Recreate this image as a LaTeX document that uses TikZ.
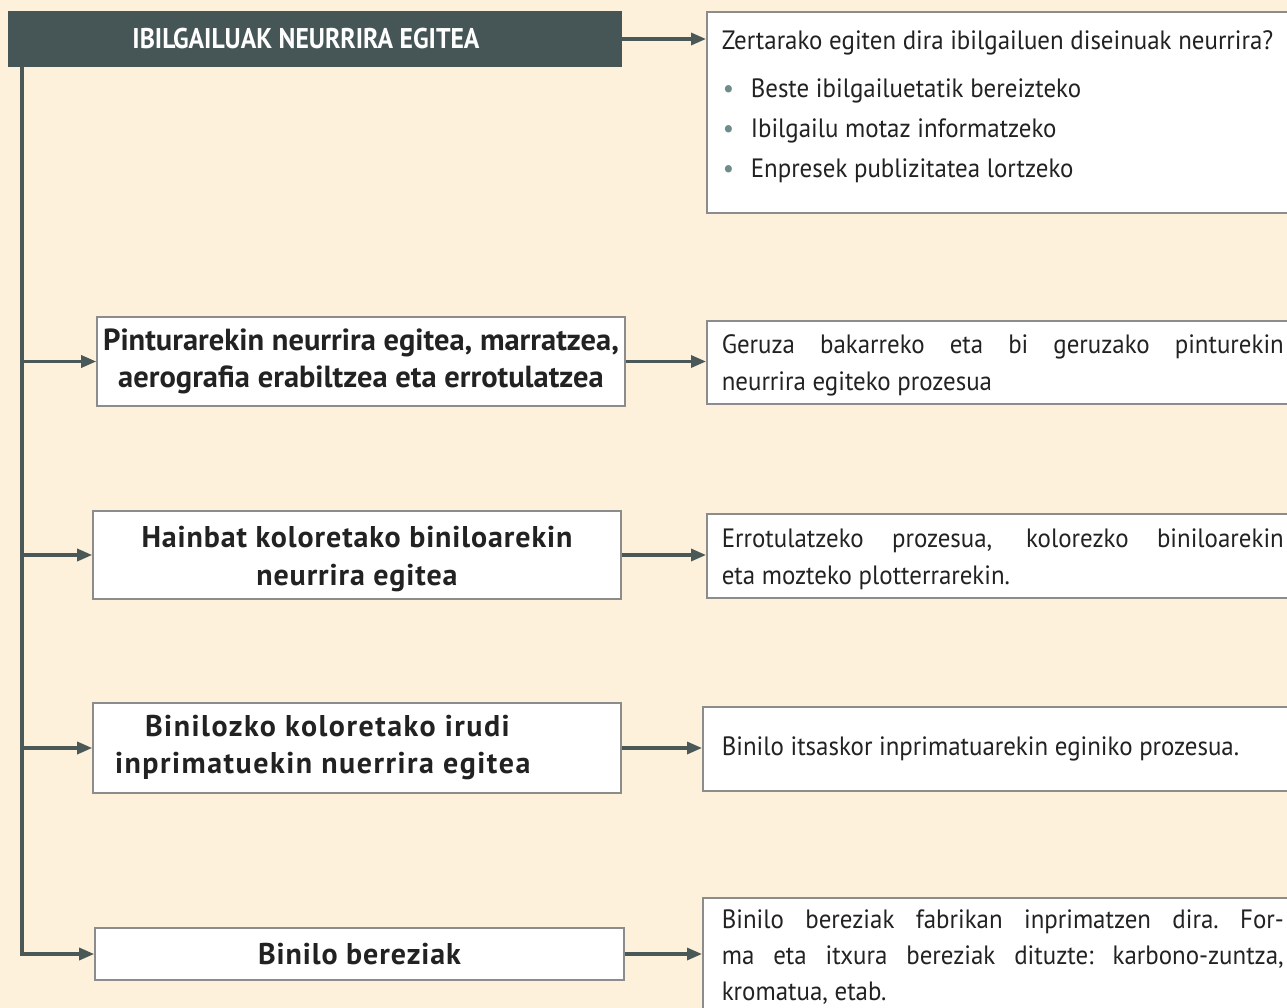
\documentclass[tikz,border=0pt]{standalone}
\usepackage{fontspec}
\setmainfont{PT Sans}
\newfontfamily\rtext{PT Sans}[FakeStretch=0.94]
\newfontfamily\lcond{PT Sans}[FakeStretch=1.0]
\newfontfamily\lnorm{PT Sans}[LetterSpace=3]
\newfontfamily\lwide{PT Sans}[LetterSpace=5]
\newfontfamily\ttlfont{PT Sans}[FakeStretch=0.9]
\usetikzlibrary{arrows.meta}
\definecolor{bg}{HTML}{FDF1DB}
\definecolor{dark}{HTML}{465656}
\definecolor{linec}{HTML}{4A5858}
\definecolor{bord}{HTML}{8C8C8C}
\definecolor{bul}{HTML}{6F8B8B}
\definecolor{txt}{HTML}{222222}
\begin{document}
\begin{tikzpicture}[x=1pt,y=-1pt,
  conn/.style={draw=linec, line width=3.2pt, -{Triangle[length=15pt,width=12pt]}},
  trunk/.style={draw=linec, line width=3.2pt},
  lbox/.style={draw=bord, line width=1.6pt, fill=white, inner sep=0pt, text=txt},
  rbox/.style={draw=bord, line width=1.6pt, fill=white, anchor=north west, inner sep=0pt, text=txt},
  rfont/.style={font=\rtext\fontsize{26.5}{37}\selectfont},
  lfontA/.style={font=\lcond\bfseries\fontsize{30.5}{37}\selectfont},
  lfontB/.style={font=\lnorm\bfseries\fontsize{30}{38}\selectfont},
  lfontC/.style={font=\lwide\bfseries\fontsize{30}{37}\selectfont},
  ]
\useasboundingbox (0,0) rectangle (1287,1008);
\fill[bg] (0,0) rectangle (1287,1008);

% title
\node[fill=dark, minimum width=614pt, minimum height=56pt, inner sep=0pt, text=white,
      font=\ttlfont\bfseries\fontsize{28.5}{30}\selectfont] (title) at (315,39) {\hspace*{-18pt}IBILGAILUAK NEURRIRA EGITEA};

% right box 1
\node[rbox, rfont, minimum width=600pt, minimum height=201pt] (r1) at (706,11)
  {\parbox[c][201pt][t]{600pt}{\fontsize{26.5}{40}\selectfont\leftskip=15pt\rightskip=0pt plus 1fil\parindent=0pt
   \rule{0pt}{38pt}Zertarako egiten dira ibilgailuen diseinuak neurrira?\par\vspace{8pt}
   \makebox[29pt][l]{\hspace*{1pt}\textcolor{bul}{•}}Beste ibilgailuetatik bereizteko\par
   \makebox[29pt][l]{\hspace*{1pt}\textcolor{bul}{•}}Ibilgailu motaz informatzeko\par
   \makebox[29pt][l]{\hspace*{1pt}\textcolor{bul}{•}}Enpresek publizitatea lortzeko\par}};

% left boxes
\node[lbox, lfontA, minimum width=528pt, minimum height=89pt, align=center] (l2) at (361,361.5)
  {Pinturarekin neurrira egitea, marratzea,\\aerografia erabiltzea eta errotulatzea};
\node[lbox, lfontB, minimum width=528pt, minimum height=88pt, align=center] (l3) at (357,555)
  {\rule{0pt}{30pt}Hainbat koloretako biniloarekin\\neurrira egitea};
\node[lbox, lfontC, minimum width=528pt, minimum height=90pt] (l4) at (357,748)
  {\parbox{528pt}{\leftskip=22pt\rightskip=0pt plus 1fil\parindent=0pt
   \hspace*{30pt}Binilozko koloretako irudi\\inprimatuekin nuerrira egitea}};
\node[lbox, lfontB, minimum width=529pt, minimum height=52pt, align=center] (l5) at (359.5,954)
  {Binilo bereziak};

% right boxes
\node[rbox, rfont, minimum width=600pt, minimum height=83pt] (r2) at (706,320)
  {\parbox{600pt}{\leftskip=15pt\rightskip=23pt\parindent=0pt
   \rule{0pt}{26pt}Geruza bakarreko eta bi geruzako pinturekin\linebreak neurrira egiteko prozesua}};
\node[rbox, rfont, minimum width=600pt, minimum height=84pt] (r3) at (706,513)
  {\parbox{600pt}{\leftskip=15pt\rightskip=23pt\parindent=0pt
   \rule{0pt}{26pt}Errotulatzeko prozesua, kolorezko biniloarekin\linebreak eta mozteko plotterrarekin.}};
\node[rbox, rfont, minimum width=604pt, minimum height=84pt] (r4) at (702,706)
  {\parbox{604pt}{\leftskip=19pt\rightskip=0pt plus 1fil\parindent=0pt
   Binilo itsaskor inprimatuarekin eginiko prozesua.}};
\node[rbox, rfont, minimum width=604pt, minimum height=123pt] (r5) at (702,897)
  {\parbox[c][123pt][t]{604pt}{\fontsize{26.5}{36}\selectfont\leftskip=19pt\rightskip=23pt\parindent=0pt\frenchspacing
   \rule{0pt}{31pt}Binilo bereziak fabrikan inprimatzen dira. For-\linebreak ma eta itxura bereziak dituzte: karbono-zuntza,\linebreak kromatua, etab.}};

% connectors
\coordinate (ttop) at (22,66);
\draw[conn] (title.east) -- (r1.west |- title.east);
\draw[trunk] (ttop) -- (ttop |- l4.west);
\draw[conn] (ttop |- l2.west) -- (l2.west);
\draw[conn] (ttop |- l3.west) -- (l3.west);
\draw[conn] (ttop |- l4.west) -- (l4.west);
\draw[conn, line join=miter] (ttop |- l4.west) |- (l5.west);
\draw[conn] (l2.east) -- (r2.west |- l2.east);
\draw[conn] (l3.east) -- (r3.west |- l3.east);
\draw[conn] (l4.east) -- (r4.west |- l4.east);
\draw[conn] (l5.east) -- (r5.west |- l5.east);
\end{tikzpicture}
\end{document}
